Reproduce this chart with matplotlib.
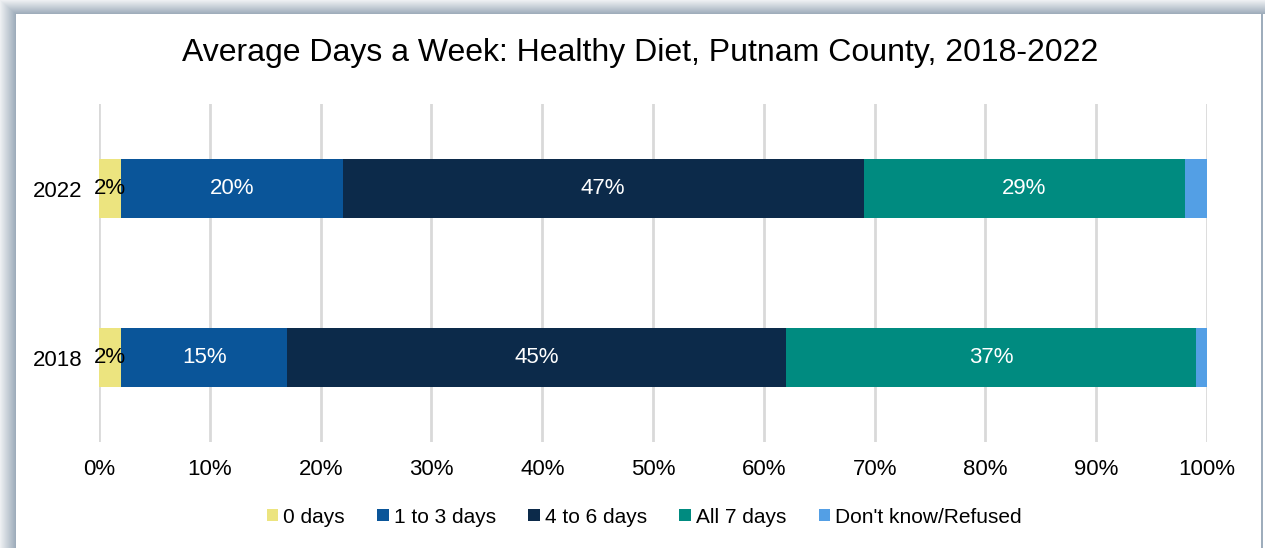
import numpy as np
import matplotlib.pyplot as plt

plt.rcParams['font.family'] = ['Liberation Sans', 'DejaVu Sans']

years = ['2018', '2022']
categories = ['0 days', '1 to 3 days', '4 to 6 days', 'All 7 days', "Don't know/Refused"]
values = {
    '0 days': [2, 2],
    '1 to 3 days': [15, 20],
    '4 to 6 days': [45, 47],
    'All 7 days': [37, 29],
    "Don't know/Refused": [1, 2],
}
colors = ['#ECE47F', '#0A5599', '#0C2A4A', '#008B80', '#539FE5']
label_colors = ['black', 'white', 'white', 'white', None]

fig = plt.figure(figsize=(12.65, 5.48), dpi=100)

# frame with shadow on the left and top
bg = fig.add_axes([0, 0, 1, 1], zorder=-10)
W, H = 1265, 548
xx = np.arange(W)[None, :]
yy = np.arange(H)[:, None]
sx = np.clip((16 - xx) / 16.0, 0, 1)
sy = np.clip((14 - yy) / 14.0, 0, 1)
inside = (xx >= 16) & (yy >= 14)
t = np.maximum(sx, sy)
dark = np.array([0.60, 0.66, 0.72])
light = np.array([0.93, 0.94, 0.95])
img = np.ones((H, W, 3))
col = dark[None, None, :] * (1 - t[..., None]) + light[None, None, :] * t[..., None]
img = np.where(inside[..., None], img, col)
img[14:, 1261:1263] = [0.62, 0.68, 0.74]
bg.imshow(img, aspect='auto', extent=[0, 1, 0, 1])
bg.axis('off')

ax = fig.add_axes([0.0783, 0.1934, 0.8759, 0.6168])
y = np.arange(len(years))
left = np.zeros(len(years))
for cat, c, lc in zip(categories, colors, label_colors):
    v = np.array(values[cat])
    bars = ax.barh(y, v, left=left, height=0.35, color=c, label=cat, zorder=3)
    if lc is not None:
        for b, val in zip(bars, v):
            ax.text(b.get_x() + b.get_width() / 2, b.get_y() + b.get_height() / 2,
                    f'{val}%', ha='center', va='center', color=lc, fontsize=16, zorder=4)
    left = left + v

ax.set_xlim(0, 100)
ax.set_ylim(-0.5, 1.5)
ax.set_xticks(range(0, 101, 10))
ax.set_xticklabels([f'{i}%' for i in range(0, 101, 10)])
ax.set_yticks(y)
ax.set_yticklabels(years)
ax.tick_params(length=0, labelsize=16)
ax.tick_params(axis='x', pad=12)
ax.tick_params(axis='y', pad=12)
ax.grid(axis='x', color='#d9d9d9', linewidth=2, zorder=0)
for s in ax.spines.values():
    s.set_visible(False)

fig.text(0.506, 0.903, 'Average Days a Week: Healthy Diet, Putnam County, 2018-2022',
         ha='center', va='center', fontsize=23)

ax.legend(loc='center', bbox_to_anchor=(0.492, -0.222), ncol=5, frameon=False,
          fontsize=15, handlelength=0.55, handleheight=0.55, handletextpad=0.25,
          columnspacing=1.55)

fig.savefig('out.png', dpi=100)
